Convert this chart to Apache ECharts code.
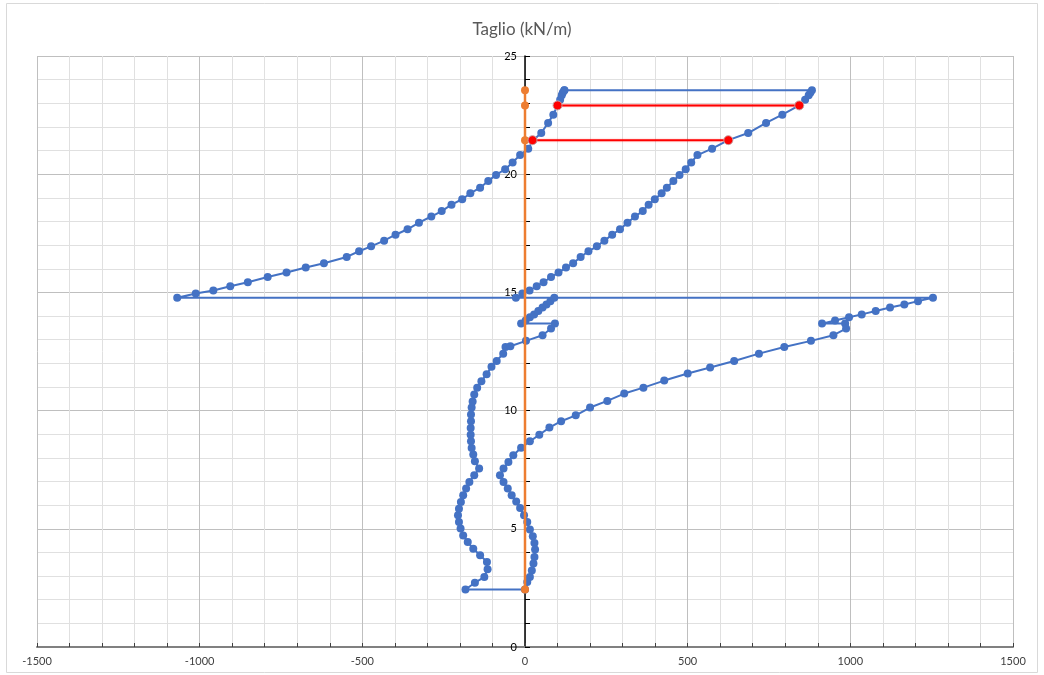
<!DOCTYPE html>
<html>
<head>
<meta charset="utf-8">
<script src="https://cdn.jsdelivr.net/npm/echarts@6/dist/echarts.min.js"></script>
<style>
  body { margin: 0; background: #fff; }
  #chart_taglio { width: 1044px; height: 675px; }
</style>
</head>
<body>
<div id="chart_taglio"></div>
<script>
// quote (m) della parte alta, comuni ai due rami
var depthUpper = [23.55, 23.45, 23.34, 23.15, 22.91, 22.52, 22.17, 21.74, 21.44, 21.08, 20.81, 20.5,
  20.21, 19.97, 19.71, 19.43, 19.19, 18.94, 18.71, 18.44, 18.21, 17.95, 17.67, 17.44, 17.19, 16.95,
  16.74, 16.5, 16.23, 16.05, 15.84, 15.65, 15.43, 15.26, 15.08, 14.95, 14.77];
var shearUpperLeft = [121, 116, 113, 108, 100, 87, 71, 50, 25, 10, -15, -38,
  -61, -89, -113, -138, -168, -193, -226, -256, -288, -326, -361, -398, -433, -473,
  -510, -548, -618, -674, -733, -791, -852, -906, -958, -1012, -1069];
var shearUpperRight = [882, 877, 872, 861, 843, 791, 741, 686, 625, 575, 530, 511,
  494, 475, 456, 436, 420, 399, 380, 362, 338, 315, 292, 268, 244, 221,
  195, 171, 148, 126, 103, 80, 57, 36, 14, -8, -28];

// tratto intermedio
var depthMid = [14.77, 14.63, 14.49, 14.36, 14.21, 14.07, 13.95, 13.81, 13.68];
var shearMidRight = [1254, 1208, 1166, 1122, 1078, 1035, 996, 953, 913];
var shearMidDiag = [90, 78, 66, 54, 41, 28, 15, 2, -12];

// parte bassa, ramo destro
var depthLowRight = [13.68, 13.47, 13.19, 12.95, 12.69, 12.41, 12.1, 11.82, 11.57, 11.27, 10.97, 10.72,
  10.41, 10.13, 9.8, 9.55, 9.28, 8.98, 8.7, 8.43, 8.11, 7.83, 7.55, 7.26, 6.98, 6.7, 6.42, 6.16,
  5.88, 5.57, 5.29, 4.97, 4.68, 4.4, 4.12, 3.81, 3.53, 3.24, 2.96, 2.75, 2.43];
var shearLowRight = [984, 987, 948, 879, 797, 719, 643, 569, 500, 428, 364, 305,
  253, 200, 156, 111, 75, 44, 15, -12, -36, -51, -66, -77, -66, -53, -41, -27,
  -15, -3, 7, 15, 24, 29, 31, 29, 26, 21, 15, 7, 0];

// parte bassa, ramo sinistro
var depthLowLeft = [13.68, 13.47, 13.19, 12.95, 12.72, 12.69, 12.41, 12.1, 11.85, 11.54, 11.24, 10.97,
  10.68, 10.39, 10.13, 9.83, 9.55, 9.26, 8.98, 8.7, 8.42, 8.14, 7.86, 7.55, 7.26, 6.98, 6.7, 6.42,
  6.13, 5.85, 5.57, 5.29, 5.01, 4.72, 4.44, 4.16, 3.88, 3.6, 3.29, 2.96, 2.72, 2.43];
var shearLowLeft = [92, 80, 54, 3, -45, -60, -67, -87, -103, -118, -134, -147,
  -156, -161, -164, -166, -166, -167, -167, -166, -164, -159, -154, -141, -156, -171, -181, -190,
  -197, -203, -206, -203, -198, -190, -176, -159, -138, -117, -115, -125, -154, -183];

var wallDepth = [23.55, 22.91, 21.44, 2.43];
var wallShear = [0, 0, 0, 0];

var strutDepth = [22.91, 21.44];
var strutFrom = [100, 23];
var strutTo = [843, 625];

var path = [];
var i;
for (i = 0; i < depthUpper.length; i++) path.push([shearUpperLeft[i], depthUpper[i]]);
for (i = 0; i < depthMid.length; i++) path.push([shearMidRight[i], depthMid[i]]);
for (i = 0; i < depthLowRight.length; i++) path.push([shearLowRight[i], depthLowRight[i]]);
for (i = depthLowLeft.length - 1; i >= 0; i--) path.push([shearLowLeft[i], depthLowLeft[i]]);
for (i = depthMid.length - 1; i >= 0; i--) path.push([shearMidDiag[i], depthMid[i]]);
for (i = depthUpper.length - 1; i >= 0; i--) path.push([shearUpperRight[i], depthUpper[i]]);
path.push(path[0]);

var wall = wallShear.map(function (v, k) { return [v, wallDepth[k]]; });

var redSeries = strutDepth.map(function (d, k) {
  return {
    type: 'line',
    data: [[strutFrom[k], d], [strutTo[k], d]],
    symbol: 'circle',
    symbolSize: 9,
    z: 4,
    lineStyle: { color: '#FF0000', width: 2, shadowColor: 'rgba(255,0,0,0.35)', shadowBlur: 2 },
    itemStyle: { color: '#FF0000', borderColor: '#C9A0A0', borderWidth: 1 }
  };
});

var myChart = echarts.init(document.getElementById('chart_taglio'));
var option = {
  animation: false,
  title: {
    text: 'Taglio (kN/m)',
    left: 'center',
    top: 16,
    textStyle: { fontFamily: 'Lato', fontWeight: 'normal', fontSize: 17, color: '#595959' }
  },
  graphic: [{
    type: 'rect',
    shape: { x: 6.5, y: 3.5, width: 1031, height: 669 },
    style: { fill: 'none', stroke: '#D9D9D9', lineWidth: 1 },
    silent: true
  }],
  grid: { left: 37, right: 31, top: 56, bottom: 28 },
  xAxis: {
    type: 'value',
    min: -1500,
    max: 1500,
    interval: 500,
    axisLine: { onZero: false, lineStyle: { color: '#808080', width: 2 } },
    axisTick: { show: true, inside: true, length: 4, lineStyle: { color: '#404040' } },
    minorTick: { show: true, splitNumber: 5, length: 4, lineStyle: { color: '#404040' } },
    axisLabel: {
      fontFamily: 'Lato', fontSize: 11, color: '#404040', margin: 9,
      formatter: function (v) { return String(v); }
    },
    splitLine: { show: true, lineStyle: { color: '#BFBFBF' } },
    minorSplitLine: { show: true, lineStyle: { color: '#E0E0E0' } }
  },
  yAxis: {
    type: 'value',
    min: 0,
    max: 25,
    interval: 5,
    offset: -488,
    axisLine: { onZero: false, lineStyle: { color: '#000', width: 1.5 } },
    axisTick: { show: true, inside: true, length: 5, lineStyle: { color: '#000' } },
    minorTick: { show: true, splitNumber: 5, length: 5, lineStyle: { color: '#000' } },
    axisLabel: { fontFamily: 'Lato', fontSize: 11, color: '#000', margin: 8 },
    splitLine: { show: true, lineStyle: { color: '#BFBFBF' } },
    minorSplitLine: { show: true, lineStyle: { color: '#E0E0E0' } }
  },
  series: [
    {
      type: 'line',
      data: path,
      symbol: 'circle',
      symbolSize: 8,
      z: 2,
      lineStyle: { color: '#4472C4', width: 2 },
      itemStyle: { color: '#4472C4' }
    },
    {
      type: 'line',
      data: wall,
      symbol: 'circle',
      symbolSize: 8,
      z: 3,
      lineStyle: { color: '#ED7D31', width: 2.5 },
      itemStyle: { color: '#ED7D31' }
    }
  ].concat(redSeries)
};
myChart.setOption(option);
</script>
</body>
</html>
